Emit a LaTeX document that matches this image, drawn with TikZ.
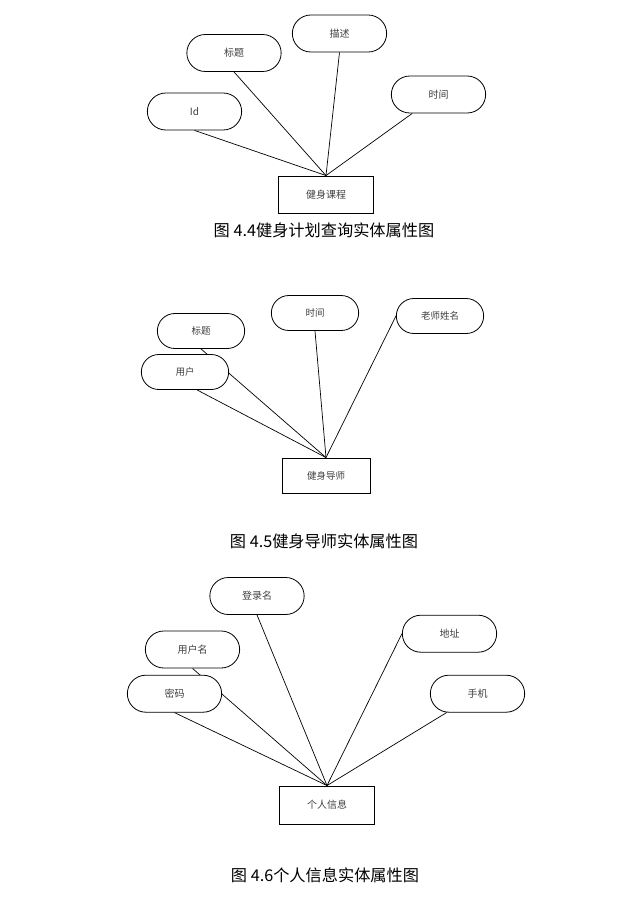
\documentclass[tikz,border=0pt]{standalone}
\usepackage{fontspec}
\setmainfont{Noto Sans CJK SC}
\usetikzlibrary{shapes.misc}
\usetikzlibrary{backgrounds}

\begin{document}
\begin{tikzpicture}[
    x=1pt, y=-1pt,
    attrNode/.style={
        rounded rectangle, draw, fill=white,
        line width=0.8pt,
        minimum width=101pt,
        minimum height=37pt,
        font=\fontsize{10}{12}\selectfont,
        text=black!75
    },
    smallAttr/.style={
        attrNode,
        minimum width=94pt,
        minimum height=35pt,
        font=\fontsize{9.5}{11}\selectfont
    },
    entityNode/.style={
        rectangle, draw, fill=white,
        line width=0.9pt,
        minimum width=95pt,
        minimum height=37pt,
        font=\fontsize{10}{12}\selectfont,
        text=black!75
    },
    attrLink/.style={line width=0.7pt},
    figCaption/.style={font=\fontsize{16.2}{18}\selectfont}
]
\useasboundingbox (0,0) rectangle (636,898);

% fitness course
\node[entityNode] (course) at (326,194.5) {健身课程};
\node[attrNode] (cDesc) at (339.5,33.5) {描述};
\node[attrNode] (cTitle) at (234,53) {标题};
\node[attrNode] (cId) at (194.5,111.5) {Id};
\node[attrNode] (cTime) at (438.5,94.5) {时间};
\node[figCaption] (cap1) at (324,230) {图 4.4健身计划查询实体属性图};

% fitness tutor
\node[entityNode, minimum width=88pt, minimum height=35pt,
      font=\fontsize{9.5}{11}\selectfont] (tutor) at (326,475.5) {健身导师};
\node[smallAttr] (tTitle) at (201,331) {标题};
\node[smallAttr] (tUser) at (185,372) {用户};
\node[smallAttr] (tTime) at (315,313) {时间};
\node[smallAttr] (tName) at (440,316) {老师姓名};
\node[figCaption] (cap2) at (324,541.5) {图 4.5健身导师实体属性图};

% personal info
\node[entityNode, minimum height=38pt] (info) at (327,805) {个人信息};
\node[attrNode] (pLogin) at (257,596) {登录名};
\node[attrNode] (pUser) at (192.5,649.5) {用户名};
\node[attrNode] (pPwd) at (174.5,693.7) {密码};
\node[attrNode] (pAddr) at (449.5,633.7) {地址};
\node[attrNode] (pPhone) at (477.5,693.7) {手机};
\node[figCaption] (cap3) at (325,875) {图 4.6个人信息实体属性图};

\begin{scope}[on background layer]
\draw[attrLink] (course.north) -- (cId.south);
\draw[attrLink] (course.north) -- (cTitle.south);
\draw[attrLink] (course.north) -- (cDesc.south);
\draw[attrLink] (course.north) -- (cTime);
% the title line runs behind the user node
\draw[attrLink] (tutor.north) -- (tTitle.south);
\draw[attrLink] (tutor.north) -- ([xshift=12pt]tUser.south);
\draw[attrLink] (tutor.north) -- (tTime.south);
\draw[attrLink] (tutor.north) -- (tName.west);
\draw[attrLink] (info.north) -- (pUser.south);
\draw[attrLink] (info.north) -- (pPwd.south);
\draw[attrLink] (info.north) -- (pLogin.south);
\draw[attrLink] (info.north) -- (pAddr.west);
\draw[attrLink] (info.north) -- (pPhone);
\end{scope}
\end{tikzpicture}
\end{document}
